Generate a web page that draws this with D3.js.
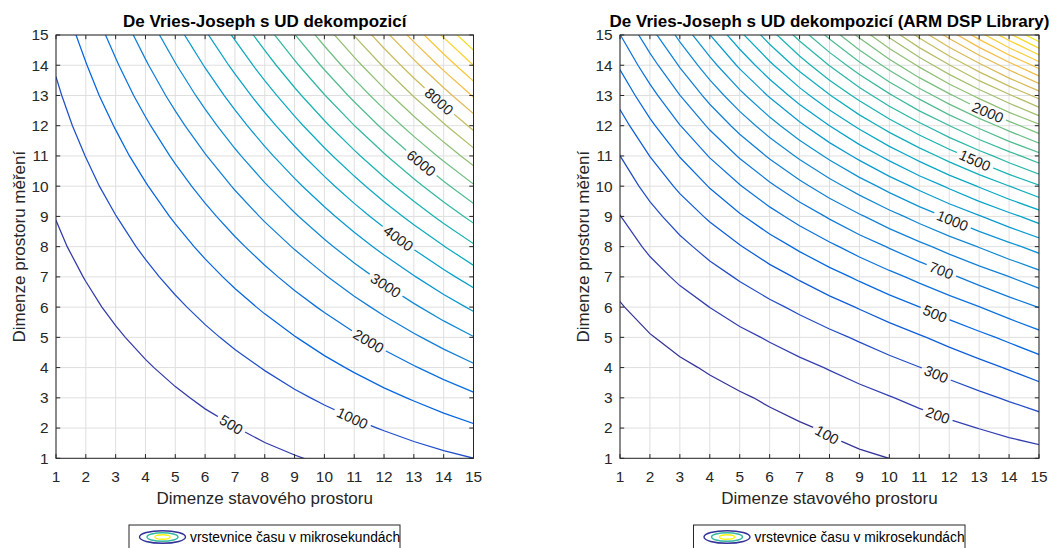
<!DOCTYPE html>
<html>
<head>
<meta charset="utf-8">
<script src="https://cdn.jsdelivr.net/npm/d3@7"></script>
<style>
  body { margin: 0; background: #fff; }
  svg text { font-family: "Liberation Sans", Arial, Helvetica, sans-serif; }
</style>
</head>
<body>
<svg id="chart" width="1060" height="548"></svg>
<script>
// Grid axes: state-space dimension n (x) and measurement-space dimension m (y)
const stateDims = [1, 2, 3, 4, 5, 6, 7, 8, 9, 10, 11, 12, 13, 14, 15];
const measDims  = [1, 2, 3, 4, 5, 6, 7, 8, 9, 10, 11, 12, 13, 14, 15];
const tickValues = [1, 2, 3, 4, 5, 6, 7, 8, 9, 10, 11, 12, 13, 14, 15];

// Execution time in microseconds; one array per state dimension n, entries for m = 1..15
const timeUD = [
  [40, 73, 113, 161, 216, 279, 349, 426, 511, 604, 703, 810, 925, 1047, 1176],
  [78, 126, 184, 252, 329, 417, 515, 623, 741, 869, 1007, 1155, 1313, 1481, 1659],
  [121, 186, 263, 353, 455, 571, 698, 839, 992, 1157, 1336, 1526, 1730, 1946, 2175],
  [169, 252, 351, 465, 594, 739, 899, 1074, 1264, 1469, 1690, 1926, 2177, 2443, 2724],
  [221, 326, 448, 588, 746, 922, 1116, 1328, 1557, 1804, 2070, 2352, 2653, 2972, 3308],
  [278, 406, 554, 722, 912, 1121, 1351, 1601, 1872, 2163, 2475, 2807, 3159, 3532, 3925],
  [339, 492, 668, 867, 1090, 1335, 1603, 1894, 2208, 2545, 2906, 3289, 3695, 4124, 4577],
  [406, 586, 792, 1023, 1281, 1563, 1872, 2206, 2565, 2951, 3362, 3798, 4260, 4748, 5261],
  [477, 686, 924, 1190, 1485, 1807, 2158, 2537, 2944, 3380, 3843, 4335, 4855, 5404, 5980],
  [552, 793, 1065, 1368, 1702, 2066, 2461, 2887, 3344, 3832, 4350, 4900, 5480, 6091, 6733],
  [632, 907, 1215, 1557, 1932, 2340, 2782, 3257, 3766, 4308, 4883, 5492, 6134, 6810, 7519],
  [717, 1028, 1374, 1756, 2175, 2629, 3120, 3646, 4208, 4807, 5441, 6112, 6819, 7561, 8340],
  [807, 1155, 1541, 1967, 2431, 2933, 3474, 4054, 4672, 5329, 6025, 6759, 7532, 8343, 9193],
  [901, 1289, 1718, 2188, 2700, 3252, 3846, 4481, 5157, 5875, 6634, 7434, 8275, 9157, 10081],
  [998, 1430, 1903, 2420, 2982, 3586, 4235, 4928, 5664, 6444, 7268, 8136, 9048, 10003, 11003]
];

const timeARM = [
  [27.9, 32.8, 41.5, 54.5, 72.1, 94.8, 123.1, 157.3, 197.9, 245.3, 299.6, 362.4, 432.9, 511.9, 598.0],
  [33.7, 39.3, 51.5, 70.3, 96.0, 128.6, 168.3, 215.4, 269.8, 331.9, 401.6, 479.3, 565.0, 658.8, 761.0],
  [40.0, 47.2, 63.2, 88.0, 121.6, 163.8, 214.7, 274.2, 342.3, 418.8, 503.8, 597.1, 698.8, 808.7, 926.9],
  [47.0, 56.4, 76.7, 107.6, 149.0, 200.6, 262.3, 333.9, 415.2, 506.1, 606.4, 715.8, 834.4, 961.7, 1097.7],
  [54.4, 67.1, 92.0, 129.1, 178.1, 238.8, 310.9, 394.2, 488.6, 593.7, 709.4, 835.5, 971.6, 1117.7, 1273.4],
  [62.5, 79.1, 109.2, 152.5, 209.1, 278.5, 360.7, 455.4, 562.5, 681.7, 813.0, 956.0, 1110.7, 1276.7, 1454.0],
  [71.1, 92.4, 128.1, 177.9, 241.8, 319.7, 411.5, 517.3, 636.8, 770.1, 917.0, 1077.5, 1251.4, 1438.8, 1639.6],
  [80.2, 107.2, 148.8, 205.1, 276.2, 362.3, 463.5, 579.9, 711.6, 858.8, 1021.5, 1199.8, 1393.9, 1603.9, 1829.9],
  [89.9, 123.3, 171.2, 234.2, 312.5, 406.5, 516.6, 643.3, 786.9, 947.8, 1126.4, 1323.0, 1538.1, 1772.1, 2025.2],
  [100.2, 140.8, 195.5, 265.2, 350.5, 452.1, 570.9, 707.5, 862.7, 1037.2, 1231.8, 1447.2, 1684.1, 1943.3, 2225.4],
  [111.1, 159.6, 221.6, 298.1, 390.2, 499.2, 626.2, 772.4, 939.0, 1127.0, 1337.7, 1572.3, 1831.8, 2117.5, 2430.5],
  [122.5, 179.9, 249.5, 332.9, 431.8, 547.8, 682.7, 838.1, 1015.7, 1217.1, 1444.1, 1698.2, 1981.2, 2294.8, 2640.5],
  [134.4, 201.5, 279.1, 369.6, 475.1, 597.9, 740.3, 904.6, 1092.9, 1307.6, 1550.9, 1825.1, 2132.4, 2475.1, 2855.4],
  [146.9, 224.5, 310.6, 408.2, 520.1, 649.5, 799.0, 971.8, 1170.6, 1398.4, 1658.2, 1952.9, 2285.3, 2658.4, 3075.2],
  [160.0, 248.8, 343.8, 448.6, 567.0, 702.5, 858.8, 1039.7, 1248.7, 1489.6, 1766.0, 2081.5, 2439.9, 2844.8, 3299.8]
];

// Contour levels
const levelsUD = [500, 1000, 1500, 2000, 2500, 3000, 3500, 4000, 4500, 5000, 5500,
                  6000, 6500, 7000, 7500, 8000, 8500, 9000, 9500, 10000, 10500, 11000];
const levelsARM = [100, 200, 300, 400, 500, 600, 700, 800, 900, 1000, 1100, 1200, 1300, 1400, 1500, 1600,
                   1700, 1800, 1900, 2000, 2100, 2200, 2300, 2400, 2500, 2600, 2700, 2800, 2900, 3000, 3100, 3200];

// Labelled levels
const labelLevelsUD = [500, 1000, 2000, 3000, 4000, 6000, 8000];
const labelLevelsARM = [100, 200, 300, 500, 700, 1000, 1500, 2000];

// Where along each labelled line the label sits, in (n, m) units
const labelSpotsUD = [[6.9, 2.15], [10.95, 2.35], [11.5, 4.9], [12.05, 6.7], [12.5, 8.3], [13.2, 10.7], [13.75, 12.7]];
const labelSpotsARM = [[7.9, 1.75], [11.6, 2.38], [11.55, 3.75], [11.45, 5.6], [11.65, 7.0], [12.0, 8.6], [12.7, 10.5], [13.25, 12.35]];

const titles = ["De Vries-Joseph s UD dekompozicí", "De Vries-Joseph s UD dekompozicí (ARM DSP Library)"];
const xLabel = "Dimenze stavového prostoru";
const yLabel = "Dimenze prostoru měření";
const legendText = "vrstevnice času v mikrosekundách";

// parula colormap stops
const parulaPos = [0, 4, 8, 12, 16, 20, 24, 28, 32, 36, 40, 44, 48, 52, 56, 60, 63].map(i => i / 63);
const parulaCol = ["#352a87", "#3243ba", "#0363e1", "#0d75dc", "#1485d4", "#0998d1", "#06a7c6", "#15b1b4",
                   "#38b99e", "#65be86", "#92bf73", "#b7bd64", "#d9ba56", "#f8bb44", "#fcce2e", "#f5de21", "#f9fb0e"];
const parula = d3.scaleLinear().domain(parulaPos).range(parulaCol).clamp(true);

const TOP = 35, BOTTOM = 458.3;
const AXIS = "#262626";
const FONT_TICK = 15.4, FONT_LABEL = 17, FONT_TITLE = 17, FONT_SMALL = 13.8, FONT_CLABEL = 14.6;

const svg = d3.select("#chart");
svg.append("rect").attr("width", 1060).attr("height", 548).attr("fill", "#fff");
const defs = svg.append("defs");

const panels = [
  { id: 0, left: 56, right: 473.5, grid: timeUD, levels: levelsUD, labels: labelLevelsUD, spots: labelSpotsUD,
    yLabelX: 24.5, legendX: 129, legendW: 271 },
  { id: 1, left: 620, right: 1039, grid: timeARM, levels: levelsARM, labels: labelLevelsARM, spots: labelSpotsARM,
    yLabelX: 589, legendX: 693.5, legendW: 271.5 }
];

panels.forEach(drawPanel);

function drawPanel(cfg) {
  const x = d3.scaleLinear().domain([stateDims[0], stateDims[stateDims.length - 1]]).range([cfg.left, cfg.right]);
  const y = d3.scaleLinear().domain([measDims[0], measDims[measDims.length - 1]]).range([BOTTOM, TOP]);
  const g = svg.append("g");

  // grid lines
  const grid = g.append("g").attr("stroke", "#dfdfdf").attr("stroke-width", 1);
  grid.selectAll("line.v").data(tickValues).join("line").attr("class", "v")
    .attr("x1", d => x(d)).attr("x2", d => x(d)).attr("y1", TOP).attr("y2", BOTTOM);
  grid.selectAll("line.h").data(tickValues).join("line").attr("class", "h")
    .attr("y1", d => y(d)).attr("y2", d => y(d)).attr("x1", cfg.left).attr("x2", cfg.right);

  // contour computation on the n x m grid (row-major, n fastest)
  const nx = stateDims.length, ny = measDims.length;
  const values = new Array(nx * ny);
  for (let j = 0; j < ny; j++) for (let i = 0; i < nx; i++) values[j * nx + i] = cfg.grid[i][j];
  const [zmin, zmax] = d3.extent(values);
  const color = v => parula((v - zmin) / (zmax - zmin));
  const contours = d3.contours().size([nx, ny]).thresholds(cfg.levels)(values);

  const toN = gx => stateDims[0] + gx - 0.5;
  const toM = gy => measDims[0] + gy - 0.5;
  const path = d3.geoPath(d3.geoTransform({
    point(gx, gy) { this.stream.point(x(toN(gx)), y(toM(gy))); }
  }));

  defs.append("clipPath").attr("id", "clip" + cfg.id)
    .append("rect").attr("x", cfg.left).attr("y", TOP)
    .attr("width", cfg.right - cfg.left).attr("height", BOTTOM - TOP);
  const mask = defs.append("mask").attr("id", "mask" + cfg.id)
    .attr("maskUnits", "userSpaceOnUse").attr("x", 0).attr("y", 0).attr("width", 1060).attr("height", 548);
  mask.append("rect").attr("x", 0).attr("y", 0).attr("width", 1060).attr("height", 548).attr("fill", "#fff");

  g.append("g").attr("clip-path", `url(#clip${cfg.id})`)
    .append("g").attr("mask", `url(#mask${cfg.id})`)
    .selectAll("path").data(contours).join("path")
    .attr("d", d => path(d))
    .attr("fill", "none")
    .attr("stroke", d => color(d.value))
    .attr("stroke-width", 1.25);

  // contour labels, placed at the point of each line nearest its spot
  const inside = p => p[0] >= 0.5 - 1e-9 && p[0] <= nx - 0.5 + 1e-9 && p[1] >= 0.5 - 1e-9 && p[1] <= ny - 0.5 + 1e-9;
  const labelG = g.append("g");
  cfg.labels.forEach((lev, k) => {
    const c = contours.find(d => d.value === lev);
    if (!c) return;
    const tx = x(cfg.spots[k][0]), ty = y(cfg.spots[k][1]);
    let best = null;
    c.coordinates.forEach(poly => poly.forEach(ring => {
      for (let s = 1; s < ring.length; s++) {
        const a = ring[s - 1], b = ring[s];
        if (!inside(a) || !inside(b)) continue;
        const ax = x(toN(a[0])), ay = y(toM(a[1])), bx = x(toN(b[0])), by = y(toM(b[1]));
        const dx = bx - ax, dy = by - ay, L2 = dx * dx + dy * dy;
        if (!L2) continue;
        let t = ((tx - ax) * dx + (ty - ay) * dy) / L2;
        t = Math.max(0, Math.min(1, t));
        const px = ax + t * dx, py = ay + t * dy;
        const dist = (px - tx) ** 2 + (py - ty) ** 2;
        if (!best || dist < best.dist) best = { dist, px, py, ang: Math.atan2(dy, dx) * 180 / Math.PI };
      }
    }));
    if (!best) return;
    let ang = best.ang;
    if (ang > 90) ang -= 180;
    if (ang < -90) ang += 180;
    const tr = `translate(${best.px},${best.py}) rotate(${ang})`;
    const t = labelG.append("text").attr("transform", tr)
      .attr("text-anchor", "middle").attr("dy", "0.36em")
      .attr("font-size", FONT_CLABEL).attr("fill", "#1a1a1a").text(lev);
    const w = t.node().getComputedTextLength() + 7;
    mask.append("rect").attr("transform", tr)
      .attr("x", -w / 2).attr("y", -7.5).attr("width", w).attr("height", 15).attr("fill", "#000");
  });

  // axes box and inward ticks on all sides
  g.append("rect").attr("x", cfg.left).attr("y", TOP).attr("width", cfg.right - cfg.left).attr("height", BOTTOM - TOP)
    .attr("fill", "none").attr("stroke", AXIS).attr("stroke-width", 1);
  const tk = 4.2;
  const ticks = g.append("g").attr("stroke", AXIS).attr("stroke-width", 1);
  tickValues.forEach(v => {
    ticks.append("line").attr("x1", x(v)).attr("x2", x(v)).attr("y1", BOTTOM).attr("y2", BOTTOM - tk);
    ticks.append("line").attr("x1", x(v)).attr("x2", x(v)).attr("y1", TOP).attr("y2", TOP + tk);
    ticks.append("line").attr("y1", y(v)).attr("y2", y(v)).attr("x1", cfg.left).attr("x2", cfg.left + tk);
    ticks.append("line").attr("y1", y(v)).attr("y2", y(v)).attr("x1", cfg.right).attr("x2", cfg.right - tk);
  });

  // tick labels
  g.append("g").selectAll("text").data(tickValues).join("text")
    .attr("x", d => x(d)).attr("y", 481.5).attr("text-anchor", "middle")
    .attr("font-size", FONT_TICK).attr("fill", AXIS).text(d => d);
  g.append("g").selectAll("text").data(tickValues).join("text")
    .attr("x", cfg.left - 7.5).attr("y", d => y(d)).attr("dy", "0.35em").attr("text-anchor", "end")
    .attr("font-size", FONT_TICK).attr("fill", AXIS).text(d => d);

  // title and axis labels
  const cx = (cfg.left + cfg.right) / 2;
  g.append("text").attr("x", cx).attr("y", 27).attr("text-anchor", "middle")
    .attr("font-size", FONT_TITLE).attr("font-weight", "bold").attr("fill", "#000").text(titles[cfg.id]);
  g.append("text").attr("x", cx).attr("y", 504).attr("text-anchor", "middle")
    .attr("font-size", FONT_LABEL).attr("fill", AXIS).text(xLabel);
  g.append("text").attr("transform", `translate(${cfg.yLabelX},${(TOP + BOTTOM) / 2}) rotate(-90)`)
    .attr("text-anchor", "middle").attr("font-size", FONT_LABEL).attr("fill", AXIS).text(yLabel);

  // legend
  const lg = g.append("g");
  lg.append("rect").attr("x", cfg.legendX).attr("y", 525).attr("width", cfg.legendW).attr("height", 28)
    .attr("fill", "#fff").attr("stroke", AXIS).attr("stroke-width", 1);
  const ex = cfg.legendX + 33.5, ey = 537;
  [[23, 6.3, 0.02], [15.5, 4.2, 0.5], [7.5, 2.2, 0.99]].forEach(([rx, ry, f]) => {
    lg.append("ellipse").attr("cx", ex).attr("cy", ey).attr("rx", rx).attr("ry", ry)
      .attr("fill", "none").attr("stroke", parula(f)).attr("stroke-width", 1.4);
  });
  lg.append("text").attr("x", cfg.legendX + 61).attr("y", 541.8)
    .attr("font-size", FONT_SMALL).attr("fill", "#000").text(legendText);
}
</script>
</body>
</html>
